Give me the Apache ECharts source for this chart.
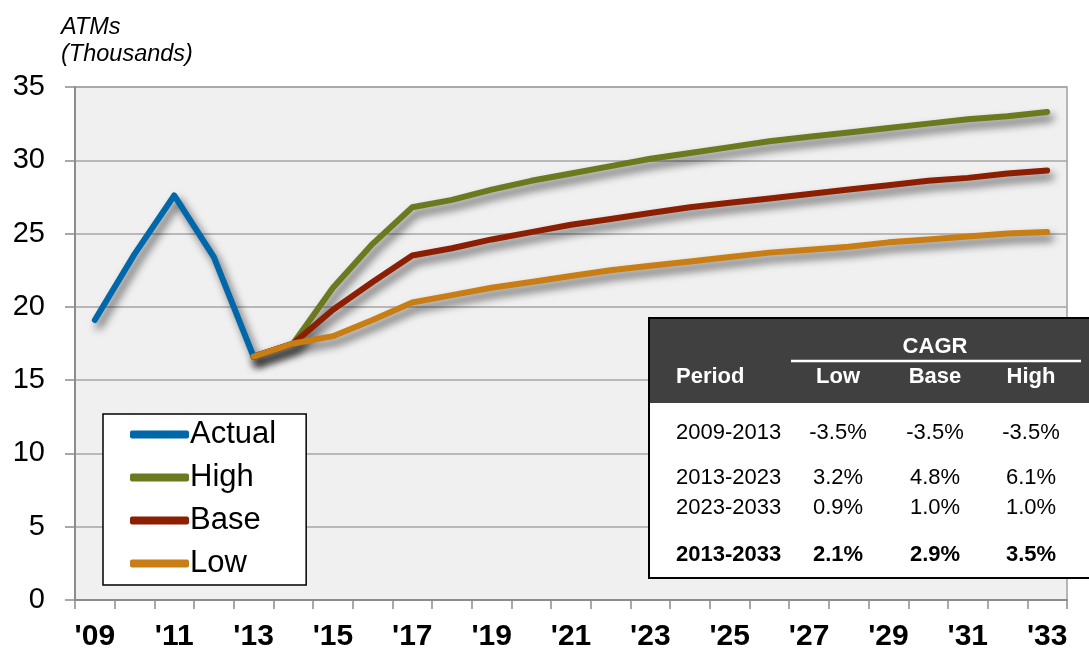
<!DOCTYPE html>
<html>
<head>
<meta charset="utf-8">
<script src="https://cdn.jsdelivr.net/npm/echarts@6/dist/echarts.min.js"></script>
<style>
  html, body { margin: 0; padding: 0; background: #ffffff; }
  #chart { width: 1089px; height: 652px; }
</style>
</head>
<body>
<div id="chart"></div>
<script>
const years = [2009, 2010, 2011, 2012, 2013, 2014, 2015, 2016, 2017, 2018, 2019, 2020, 2021,
  2022, 2023, 2024, 2025, 2026, 2027, 2028, 2029, 2030, 2031, 2032, 2033];

// ATMs, thousands
const actual = [19.1, 23.6, 27.6, 23.4, 16.6];
// forecasts start in 2013
const high = [16.6, 17.5, 21.3, 24.3, 26.8, 27.3, 28.0, 28.6, 29.1, 29.6, 30.1, 30.5, 30.9,
  31.3, 31.6, 31.9, 32.2, 32.5, 32.8, 33.0, 33.3];
const base = [16.6, 17.5, 19.8, 21.7, 23.5, 24.0, 24.6, 25.1, 25.6, 26.0, 26.4, 26.8, 27.1,
  27.4, 27.7, 28.0, 28.3, 28.6, 28.8, 29.1, 29.3];
const low = [16.6, 17.5, 18.0, 19.1, 20.3, 20.8, 21.3, 21.7, 22.1, 22.5, 22.8, 23.1, 23.4,
  23.7, 23.9, 24.1, 24.4, 24.6, 24.8, 25.0, 25.1];

// CAGR table
const cagrPeriods = ['2009-2013', '2013-2023', '2023-2033', '2013-2033'];
const cagrLow = ['-3.5%', '3.2%', '0.9%', '2.1%'];
const cagrBase = ['-3.5%', '4.8%', '1.0%', '2.9%'];
const cagrHigh = ['-3.5%', '6.1%', '1.0%', '3.5%'];

const FONT = '"Liberation Sans", Arial, sans-serif';
const forecastStart = years.indexOf(2013);

function pad(values, offset) {
  const out = years.map(() => null);
  values.forEach((v, i) => { out[offset + i] = v; });
  return out;
}

function lineSeries(name, color, values, offset) {
  return {
    name: name,
    type: 'line',
    data: pad(values, offset),
    color: color,
    showSymbol: false,
    symbol: 'none',
    silent: true,
    lineStyle: {
      width: 6,
      color: color,
      cap: 'round',
      join: 'round',
      shadowColor: 'rgba(0,0,0,0.6)',
      shadowBlur: 8,
      shadowOffsetX: 4,
      shadowOffsetY: 6
    }
  };
}

// table graphic
const tbl = { x: 649, y: 318, w: 446, h: 260, headH: 84 };
const colX = [676, 838, 935, 1031];
const rowY = [433, 478, 508, 555];
const Z = 100;
const tableEls = [
  { type: 'rect', z: Z, shape: { x: tbl.x, y: tbl.y, width: tbl.w, height: tbl.h },
    style: { fill: '#ffffff', stroke: '#000000', lineWidth: 2 } },
  { type: 'rect', z: Z + 1, shape: { x: tbl.x + 1, y: tbl.y + 1, width: tbl.w, height: tbl.headH },
    style: { fill: '#404040' } },
  { type: 'line', z: Z + 2, shape: { x1: 791, y1: 361, x2: 1081, y2: 361 },
    style: { stroke: '#ffffff', lineWidth: 2.5 } },
  { type: 'text', z: Z + 2, x: 935, y: 347,
    style: { text: 'CAGR', fill: '#ffffff', font: 'bold 22px ' + FONT, textAlign: 'center', textVerticalAlign: 'middle' } },
  { type: 'text', z: Z + 2, x: colX[0], y: 377,
    style: { text: 'Period', fill: '#ffffff', font: 'bold 22px ' + FONT, textAlign: 'left', textVerticalAlign: 'middle' } }
];
['Low', 'Base', 'High'].forEach((h, i) => {
  tableEls.push({ type: 'text', z: Z + 2, x: colX[i + 1], y: 377,
    style: { text: h, fill: '#ffffff', font: 'bold 22px ' + FONT, textAlign: 'center', textVerticalAlign: 'middle' } });
});
cagrPeriods.forEach((p, r) => {
  const weight = r === cagrPeriods.length - 1 ? 'bold ' : '';
  const cells = [p, cagrLow[r], cagrBase[r], cagrHigh[r]];
  cells.forEach((t, c) => {
    tableEls.push({ type: 'text', z: Z + 2, x: colX[c], y: rowY[r],
      style: { text: t, fill: '#000000', font: weight + '22px ' + FONT,
        textAlign: c === 0 ? 'left' : 'center', textVerticalAlign: 'middle' } });
  });
});

const chart = echarts.init(document.getElementById('chart'), null, { renderer: 'canvas' });

chart.setOption({
  backgroundColor: '#ffffff',
  animation: false,
  title: {
    text: 'ATMs\n(Thousands)',
    left: 56,
    top: 9,
    textStyle: { fontFamily: FONT, fontStyle: 'italic', fontWeight: 'normal', fontSize: 23.5, lineHeight: 27, color: '#000000' }
  },
  grid: {
    left: 75, right: 22, top: 87, bottom: 51,
    show: true,
    backgroundColor: '#f0f0f0',
    borderColor: '#a0a0a0',
    borderWidth: 1.5
  },
  legend: {
    orient: 'vertical',
    left: 103,
    top: 414,
    data: ['Actual', 'High', 'Base', 'Low'],
    icon: 'roundRect',
    itemWidth: 59,
    itemHeight: 8,
    itemGap: 12,
    padding: [5, 30, 6, 27],
    backgroundColor: '#ffffff',
    borderColor: '#000000',
    borderWidth: 1.5,
    borderRadius: 0,
    selectedMode: false,
    z: 20,
    textStyle: { fontFamily: FONT, fontSize: 31, color: '#000000', lineHeight: 31, padding: [0, 0, 0, -4] }
  },
  xAxis: {
    type: 'category',
    data: years,
    boundaryGap: true,
    axisLine: { lineStyle: { color: '#8c8c8c', width: 2 } },
    axisTick: { show: true, interval: 0, length: 9, lineStyle: { color: '#8c8c8c', width: 1.5 } },
    axisLabel: {
      interval: 1,
      margin: 22,
      fontFamily: FONT,
      fontSize: 30,
      fontWeight: 'bold',
      color: '#000000',
      formatter: (v) => "'" + String(v).slice(2)
    },
    splitLine: { show: false }
  },
  yAxis: {
    type: 'value',
    min: 0,
    max: 35,
    interval: 5,
    axisLine: { show: true, lineStyle: { color: '#8c8c8c', width: 2 } },
    axisTick: { show: true, length: 10, lineStyle: { color: '#8c8c8c', width: 1.5 } },
    axisLabel: { margin: 30, fontFamily: FONT, fontSize: 29, color: '#000000' },
    splitLine: { show: true, lineStyle: { color: '#a6a6a6', width: 1.5 } }
  },
  series: [
    lineSeries('Actual', '#0068aa', actual, 0),
    lineSeries('High', '#6b7a1e', high, forecastStart),
    lineSeries('Base', '#8c1f02', base, forecastStart),
    lineSeries('Low', '#c97d15', low, forecastStart)
  ],
  graphic: tableEls
});
</script>
</body>
</html>
